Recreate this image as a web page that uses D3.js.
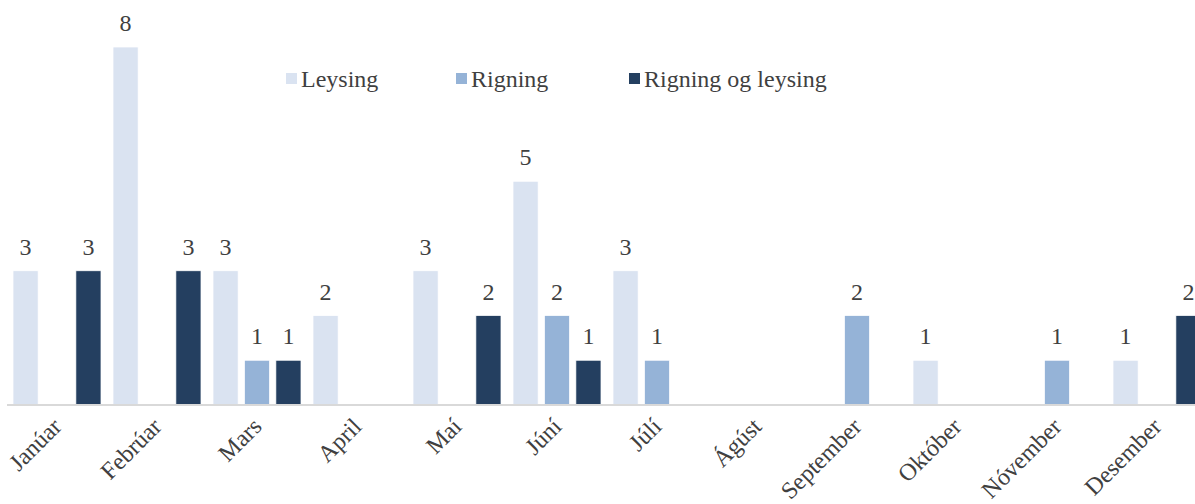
<!DOCTYPE html>
<html><head><meta charset="utf-8">
<script src="https://cdn.jsdelivr.net/npm/d3@7"></script>
<style>body{margin:0;background:#fff}svg{display:block}</style>
</head><body><svg id="c" width="1195" height="504"></svg>
<script>
const months = ["Janúar","Febrúar","Mars","April","Maí","Júní","Júlí","Ágúst","September","Október","Nóvember","Desember"];
const seriesNames = ["Leysing","Rigning","Rigning og leysing"];
const leysing = [3,8,3,2,3,5,3,0,0,1,0,1];
const rigning = [0,0,1,0,0,2,1,0,2,0,1,0];
const rigningOgLeysing = [3,3,1,0,2,1,0,0,0,0,0,2];
const colors = ["#dae3f1","#95b3d7","#243f60"];
const series = [leysing, rigning, rigningOgLeysing];
const FONT = "'Liberation Serif','Times New Roman',serif";

const svg = d3.select("#c");
const x0 = d3.scaleBand().domain(months).range([7, 1207]).paddingInner(0).paddingOuter(0);
const x1 = d3.scaleBand().domain(seriesNames).range([6, 94]).paddingInner(0.2).paddingOuter(0);
const y = d3.scaleLinear().domain([0, 8]).range([405, 47]);

const g = svg.append("g");
months.forEach((m, i) => {
  seriesNames.forEach((s, j) => {
    const v = series[j][i];
    if (!v) return;
    g.append("rect")
      .attr("x", x0(m) + x1(s)).attr("y", y(v))
      .attr("width", x1.bandwidth()).attr("height", y(0) - y(v))
      .attr("fill", colors[j]).attr("stroke", "#fff").attr("stroke-width", 0.75);
    g.append("text")
      .attr("x", x0(m) + x1(s) + x1.bandwidth() / 2).attr("y", y(v) - 16)
      .attr("text-anchor", "middle")
      .style("font-family", FONT).attr("font-size", 24).attr("fill", "#404040")
      .text(v);
  });
});

// axis
const ax = svg.append("g").attr("transform", "translate(0,405)")
  .call(d3.axisBottom(x0).tickSize(0).tickPadding(0));
ax.select(".domain").attr("stroke", "#d9d9d9").attr("stroke-width", 2).attr("d", "M7,0H1207");
ax.selectAll(".tick text")
  .style("font-family", FONT).attr("font-size", 24).attr("fill", "#404040")
  .attr("text-anchor", "end").attr("dy", 0).attr("y", 0)
  .attr("transform", "translate(6,23) rotate(-45)");

// legend
const legX = [286, 456, 629];
seriesNames.forEach((s, j) => {
  svg.append("rect").attr("x", legX[j]).attr("y", 73).attr("width", 11).attr("height", 11).attr("fill", colors[j]);
  svg.append("text").attr("x", legX[j] + 15).attr("y", 87)
    .style("font-family", FONT).attr("font-size", 24).attr("fill", "#404040").text(s);
});
</script></body></html>
